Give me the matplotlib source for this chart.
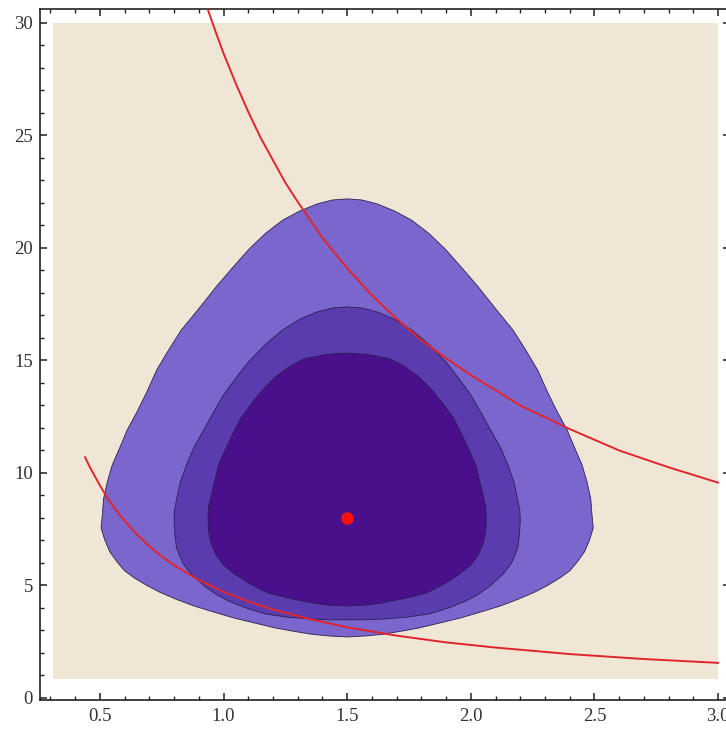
import matplotlib
matplotlib.use("Agg")
import matplotlib.pyplot as plt
from matplotlib.ticker import MultipleLocator

# plotted region (beige background of the contour plot)
region_x = [0.31, 3.0]
region_y = [0.85, 30.0]

# contour boundaries (outer -> inner), clockwise from the top
outer_x = [1.50, 1.56, 1.62, 1.69, 1.76, 1.83, 1.90, 1.965, 2.03, 2.10, 2.17, 2.22, 2.27, 2.31, 2.35, 2.39, 2.42, 2.45,
           2.47, 2.485, 2.49, 2.495, 2.48, 2.46, 2.43, 2.40, 2.36, 2.31, 2.26, 2.19, 2.12, 2.04, 1.96, 1.87, 1.79, 1.72,
           1.65, 1.58,
           1.50, 1.42, 1.35, 1.28, 1.21, 1.13, 1.04, 0.96, 0.88, 0.81, 0.74, 0.69, 0.64, 0.60, 0.57, 0.54, 0.52, 0.505,
           0.51, 0.515, 0.53, 0.55, 0.58, 0.61, 0.65, 0.69, 0.73, 0.78, 0.83, 0.90, 0.97, 1.035, 1.10, 1.17, 1.24, 1.31,
           1.38, 1.44]
outer_y = [22.18, 22.13, 21.96, 21.65, 21.24, 20.65, 19.91, 19.10, 18.27, 17.30, 16.36, 15.50, 14.58, 13.60, 12.71,
           11.90, 11.11, 10.35, 9.60, 8.85, 8.13, 7.55, 7.02, 6.50, 6.04, 5.65, 5.33, 5.00, 4.71, 4.38, 4.09, 3.82, 3.56,
           3.32, 3.11, 2.97, 2.84, 2.76,
           2.71, 2.76, 2.84, 2.97, 3.11, 3.32, 3.56, 3.82, 4.09, 4.38, 4.71, 5.00, 5.33, 5.65, 6.04, 6.50, 7.02, 7.55,
           8.13, 8.85, 9.60, 10.35, 11.11, 11.90, 12.71, 13.60, 14.58, 15.50, 16.36, 17.30, 18.27, 19.10, 19.91, 20.65,
           21.24, 21.65, 21.96, 22.13]

mid_x = [1.50, 1.56, 1.62, 1.69, 1.76, 1.83, 1.90, 1.95, 2.00, 2.04, 2.08, 2.12, 2.15, 2.175, 2.19, 2.198, 2.20, 2.197,
         2.19, 2.165, 2.13, 2.08, 2.03, 1.98, 1.91, 1.83, 1.74, 1.65, 1.57,
         1.50, 1.43, 1.35, 1.26, 1.17, 1.09, 1.02, 0.97, 0.92, 0.87, 0.835, 0.81, 0.803, 0.80, 0.802, 0.81, 0.825, 0.85,
         0.88, 0.92, 0.96, 1.00, 1.05, 1.10, 1.17, 1.24, 1.31, 1.38, 1.44]
mid_y = [17.38, 17.33, 17.16, 16.84, 16.36, 15.72, 14.93, 14.22, 13.47, 12.70, 11.91, 11.13, 10.36, 9.58, 8.80, 8.35,
         7.91, 7.30, 6.67, 6.00, 5.50, 5.00, 4.60, 4.31, 4.00, 3.73, 3.59, 3.51, 3.475,
         3.47, 3.475, 3.51, 3.59, 3.73, 4.00, 4.31, 4.60, 5.00, 5.50, 6.00, 6.67, 7.30, 7.91, 8.35, 8.80, 9.58, 10.36,
         11.13, 11.91, 12.70, 13.47, 14.22, 14.93, 15.72, 16.36, 16.84, 17.16, 17.33]

inner_x = [1.50, 1.58, 1.67, 1.73, 1.79, 1.84, 1.885, 1.93, 1.96, 1.99, 2.02, 2.04, 2.06, 2.063, 2.06, 2.05, 2.03, 2.00,
           1.95, 1.89, 1.82, 1.73, 1.63, 1.57,
           1.50, 1.43, 1.37, 1.27, 1.18, 1.11, 1.05, 1.00, 0.97, 0.95, 0.94, 0.937, 0.94, 0.96, 0.98, 1.01, 1.04, 1.07,
           1.115, 1.16, 1.21, 1.27, 1.33, 1.42]
inner_y = [15.33, 15.27, 15.09, 14.75, 14.27, 13.72, 13.11, 12.44, 11.80, 11.10, 10.36, 9.45, 8.53, 7.95, 7.38, 6.85,
           6.36, 5.90, 5.47, 5.05, 4.66, 4.42, 4.20, 4.12,
           4.09, 4.12, 4.20, 4.42, 4.66, 5.05, 5.47, 5.90, 6.36, 6.85, 7.38, 7.95, 8.53, 9.45, 10.36, 11.10, 11.80, 12.44,
           13.11, 13.72, 14.27, 14.75, 15.09, 15.27]

# red curves
upper_x = [0.937, 0.97, 1.0, 1.05, 1.1, 1.15, 1.2, 1.25, 1.3, 1.4, 1.5, 1.6, 1.7, 1.8, 1.9, 2.0, 2.2, 2.4, 2.6, 2.8, 3.0]
upper_y = [30.58, 29.55, 28.65, 27.3, 26.05, 24.9, 23.9, 22.9, 22.05, 20.45, 19.1, 17.9, 16.85, 15.9, 15.1, 14.35,
           13.0, 11.95, 11.0, 10.25, 9.57]
lower_x = [0.44, 0.46, 0.48, 0.5, 0.53, 0.56, 0.6, 0.65, 0.7, 0.75, 0.8, 0.9, 1.0, 1.1, 1.2, 1.35, 1.5, 1.7, 1.9, 2.1,
           2.4, 2.7, 3.0]
lower_y = [10.7, 10.25, 9.85, 9.45, 8.9, 8.42, 7.87, 7.26, 6.74, 6.29, 5.9, 5.24, 4.72, 4.29, 3.93, 3.5, 3.14, 2.77,
           2.47, 2.24, 1.95, 1.73, 1.56]

best = (1.5, 8.0)

x_ticks = [0.5, 1.0, 1.5, 2.0, 2.5, 3.0]
y_ticks = [0, 5, 10, 15, 20, 25, 30]

plt.rcParams['font.family'] = ['Liberation Serif', 'DejaVu Serif']

fig = plt.figure(figsize=(7.26, 7.29), dpi=100)
ax = fig.add_axes([0.0551, 0.0398, 0.9504, 0.9479])

ax.fill_between(region_x, region_y[0], region_y[1], color='#f0e6d6', lw=0, zorder=0)

edge = '#2b2050'
ax.fill(outer_x, outer_y, facecolor='#7a66cd', edgecolor=edge, lw=0.6, zorder=1)
ax.fill(mid_x, mid_y, facecolor='#5a3caf', edgecolor=edge, lw=0.6, zorder=2)
ax.fill(inner_x, inner_y, facecolor='#4a0f8b', edgecolor=edge, lw=0.6, zorder=3)

ax.plot(upper_x, upper_y, color='#e0262c', lw=1.4, zorder=4)
ax.plot(lower_x, lower_y, color='#e0262c', lw=1.4, zorder=4)
ax.plot([best[0]], [best[1]], 'o', color='#ff1010', ms=9, mec='none', zorder=5)

ax.set_xlim(0.258, 3.048)
ax.set_ylim(-0.09, 30.62)

ax.set_xticks(x_ticks)
ax.set_xticklabels(['{:.1f}'.format(v) for v in x_ticks])
ax.set_yticks(y_ticks)
ax.set_yticklabels([str(v) for v in y_ticks])
ax.xaxis.set_minor_locator(MultipleLocator(0.1))
ax.yaxis.set_minor_locator(MultipleLocator(1))

ax.tick_params(which='both', direction='in', top=True, right=True, colors='#222222', labelcolor='#333333', labelsize=13.5)
ax.tick_params(which='major', length=5, width=1.1)
ax.tick_params(which='minor', length=3, width=1.0)
ax.tick_params(axis='x', pad=6)
ax.tick_params(axis='y', pad=5)
for spine in ax.spines.values():
    spine.set_linewidth(1.2)
    spine.set_color('#222222')

fig.savefig('out.png', dpi=100)
